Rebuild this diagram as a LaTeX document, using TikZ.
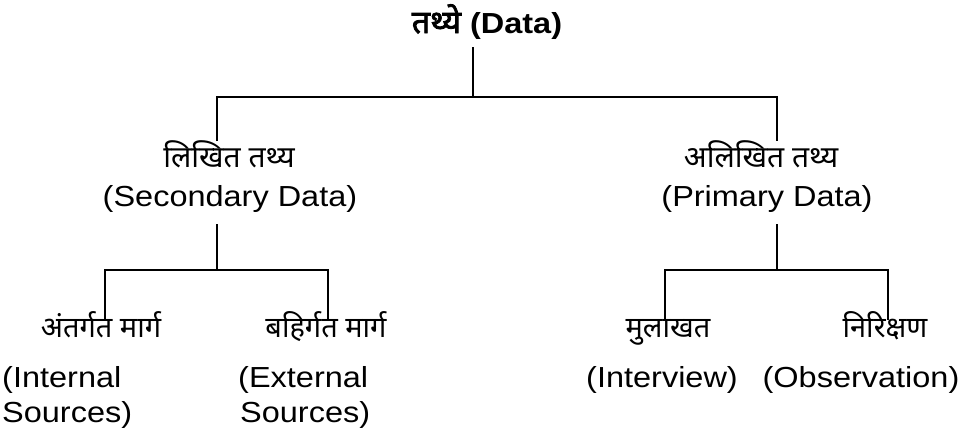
\documentclass[tikz,border=0pt]{standalone}
\usepackage{fontspec}
\setmainfont{Liberation Sans}[FakeStretch=1.12]
\newfontfamily\dev[Script=Devanagari]{Noto Sans}
\newfontfamily\devb[Script=Devanagari,FakeBold=2.5]{Noto Sans}
\begin{document}
\begin{tikzpicture}[x=1pt,y=-1pt]
\tikzset{
  txt/.style={inner sep=0pt, anchor=base, font=\fontsize{29}{34}\selectfont},
  txtl/.style={txt, anchor=base west},
  devt/.style={txt, font=\fontsize{30}{36}\selectfont\dev},
  devs/.style={txt, font=\fontsize{29}{34}\selectfont\dev},
  conn/.style={draw=black, line width=1.5pt}
}
\useasboundingbox (0,0) rectangle (962,440);
% root
\node[txt, font=\fontsize{29}{34}\selectfont\bfseries] (root) at (487,33) {{\devb\fontsize{32}{38}\selectfont तथ्ये} (Data)};
% level 1
\node[devt] (secdev) at (229,167) {लिखित तथ्य};
\node[txt] (seceng) at (230,206) {(Secondary Data)};
\node[devt] (pridev) at (761,167) {अलिखित तथ्य};
\node[txt] (prieng) at (767,206) {(Primary Data)};
% level 2 left
\node[devs] (intdev) at (101,337) {अंतर्गत मार्ग};
\node[txtl] (inteng1) at (2,387) {(Internal};
\node[txtl] (inteng2) at (2,422) {Sources)};
\node[devs] (extdev) at (326,337) {बहिर्गत मार्ग};
\node[txtl] (exteng1) at (238,387) {(External};
\node[txtl] (exteng2) at (240,422) {Sources)};
% level 2 right
\node[devs] (intvdev) at (668,337) {मुलाखत};
\node[txt] (intveng) at (662,387) {(Interview)};
\node[devs] (obsdev) at (885,337) {निरिक्षण};
\node[txt] (obseng) at (861,387) {(Observation)};
% junctions
\coordinate (rtop) at (473,47);
\coordinate (r) at (473,97);
\coordinate (rl) at (217,97);
\coordinate (rr) at (777,97);
\coordinate (lend) at (217,141);
\coordinate (rend) at (777,141);
\coordinate (ltop) at (217,224);
\coordinate (lj) at (217,270);
\coordinate (ljl) at (105,270);
\coordinate (ljr) at (328,270);
\coordinate (lle) at (105,320);
\coordinate (lre) at (328,320);
\coordinate (rtop2) at (777,224);
\coordinate (rj) at (777,270);
\coordinate (rjl) at (665,270);
\coordinate (rjr) at (888,270);
\coordinate (rle) at (665,320);
\coordinate (rre) at (888,320);
% connectors
\draw[conn] (rtop) -- (r);
\draw[conn] (lend) -- (rl) -- (rr) -- (rend);
\draw[conn] (ltop) -- (lj);
\draw[conn] (lle) -- (ljl) -- (ljr) -- (lre);
\draw[conn] (rtop2) -- (rj);
\draw[conn] (rle) -- (rjl) -- (rjr) -- (rre);
\end{tikzpicture}
\end{document}
